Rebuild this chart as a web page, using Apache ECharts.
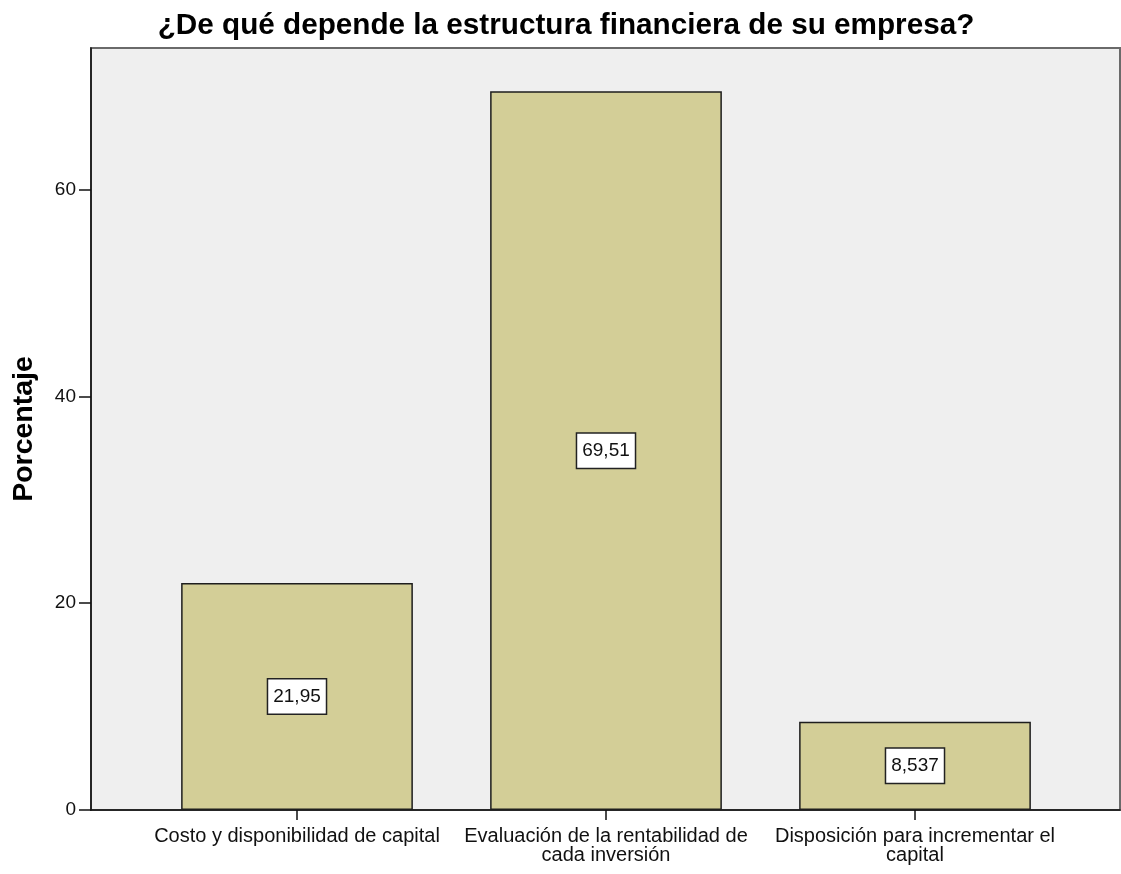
<!DOCTYPE html>
<html>
<head>
<meta charset="utf-8">
<script src="https://cdn.jsdelivr.net/npm/echarts@6/dist/echarts.min.js"></script>
<style>
  html, body { margin: 0; padding: 0; background: #ffffff; }
  #chart { width: 1121px; height: 874px; }
</style>
</head>
<body>
<div id="chart"></div>
<script>
// Survey answers and their percentage share
const categories = [
  'Costo y disponibilidad de capital',
  'Evaluación de la rentabilidad de cada inversión',
  'Disposición para incrementar el capital'
];
const categoryLabels = [
  'Costo y disponibilidad de capital',
  'Evaluación de la rentabilidad de\ncada inversión',
  'Disposición para incrementar el\ncapital'
];
const percentages = [21.95, 69.51, 8.537];
const valueTexts = ['21,95', '69,51', '8,537'];
const yTicks = [0, 20, 40, 60];

const FONT = '"Liberation Sans", Arial, sans-serif';

const chart = echarts.init(document.getElementById('chart'), null, { renderer: 'canvas' });

chart.setOption({
  animation: false,
  backgroundColor: '#ffffff',
  title: {
    text: '¿De qué depende la estructura financiera de su empresa?',
    left: 566,
    textAlign: 'center',
    top: 11,
    padding: 0,
    textStyle: { fontFamily: FONT, fontSize: 29.7, fontWeight: 'bold', color: '#000000' }
  },
  grid: [
    // plot frame with the grey background
    { left: 91, right: 1, top: 48, bottom: 64, show: true, backgroundColor: '#efefef',
      borderColor: '#6a6a6a', borderWidth: 2, z: 0 },
    // bars
    { left: 142.5, right: 51.5, top: 48, bottom: 64 }
  ],
  xAxis: [
    { gridIndex: 0, type: 'value', min: 0, max: 1, show: true,
      axisLine: { show: true, lineStyle: { color: '#111111', width: 1.5 } },
      axisTick: { show: false }, axisLabel: { show: false }, splitLine: { show: false } },
    { gridIndex: 1, type: 'category', data: categories,
      axisLine: { show: false },
      axisTick: { show: true, alignWithLabel: true, length: 10, lineStyle: { color: '#111111', width: 1.5 } },
      axisLabel: {
        interval: 0,
        hideOverlap: false,
        margin: 17,
        fontFamily: FONT, fontSize: 20, color: '#111111', lineHeight: 19, align: 'center',
        formatter: (v, i) => categoryLabels[i]
      },
      splitLine: { show: false }
    }
  ],
  yAxis: [
    { gridIndex: 0, type: 'value', show: false },
    { gridIndex: 1, type: 'value', min: 0, max: 73.7, interval: 20, offset: 51.5,
      name: 'Porcentaje', nameLocation: 'middle', nameGap: 52, nameRotate: 90,
      nameTextStyle: { fontFamily: FONT, fontSize: 28.5, fontWeight: 'bold', color: '#000000' },
      axisLine: { show: true, lineStyle: { color: '#111111', width: 1.5 } },
      axisTick: { show: true, length: 12, customValues: yTicks, lineStyle: { color: '#111111', width: 1.5 } },
      axisLabel: { margin: 15, customValues: yTicks, fontFamily: FONT, fontSize: 19, color: '#111111' },
      splitLine: { show: false }
    }
  ],
  series: [{
    type: 'bar',
    xAxisIndex: 1,
    yAxisIndex: 1,
    data: percentages,
    barWidth: '75%',
    itemStyle: { color: '#d3ce97', borderColor: '#1e1e1e', borderWidth: 1.5 },
    label: {
      show: true,
      position: 'inside',
      formatter: (p) => valueTexts[p.dataIndex],
      fontFamily: FONT, fontSize: 19, color: '#111111',
      backgroundColor: '#ffffff',
      borderColor: '#222222', borderWidth: 1.5,
      padding: [7, 5, 7, 5],
      lineHeight: 20
    },
    z: 3
  }]
});
</script>
</body>
</html>
